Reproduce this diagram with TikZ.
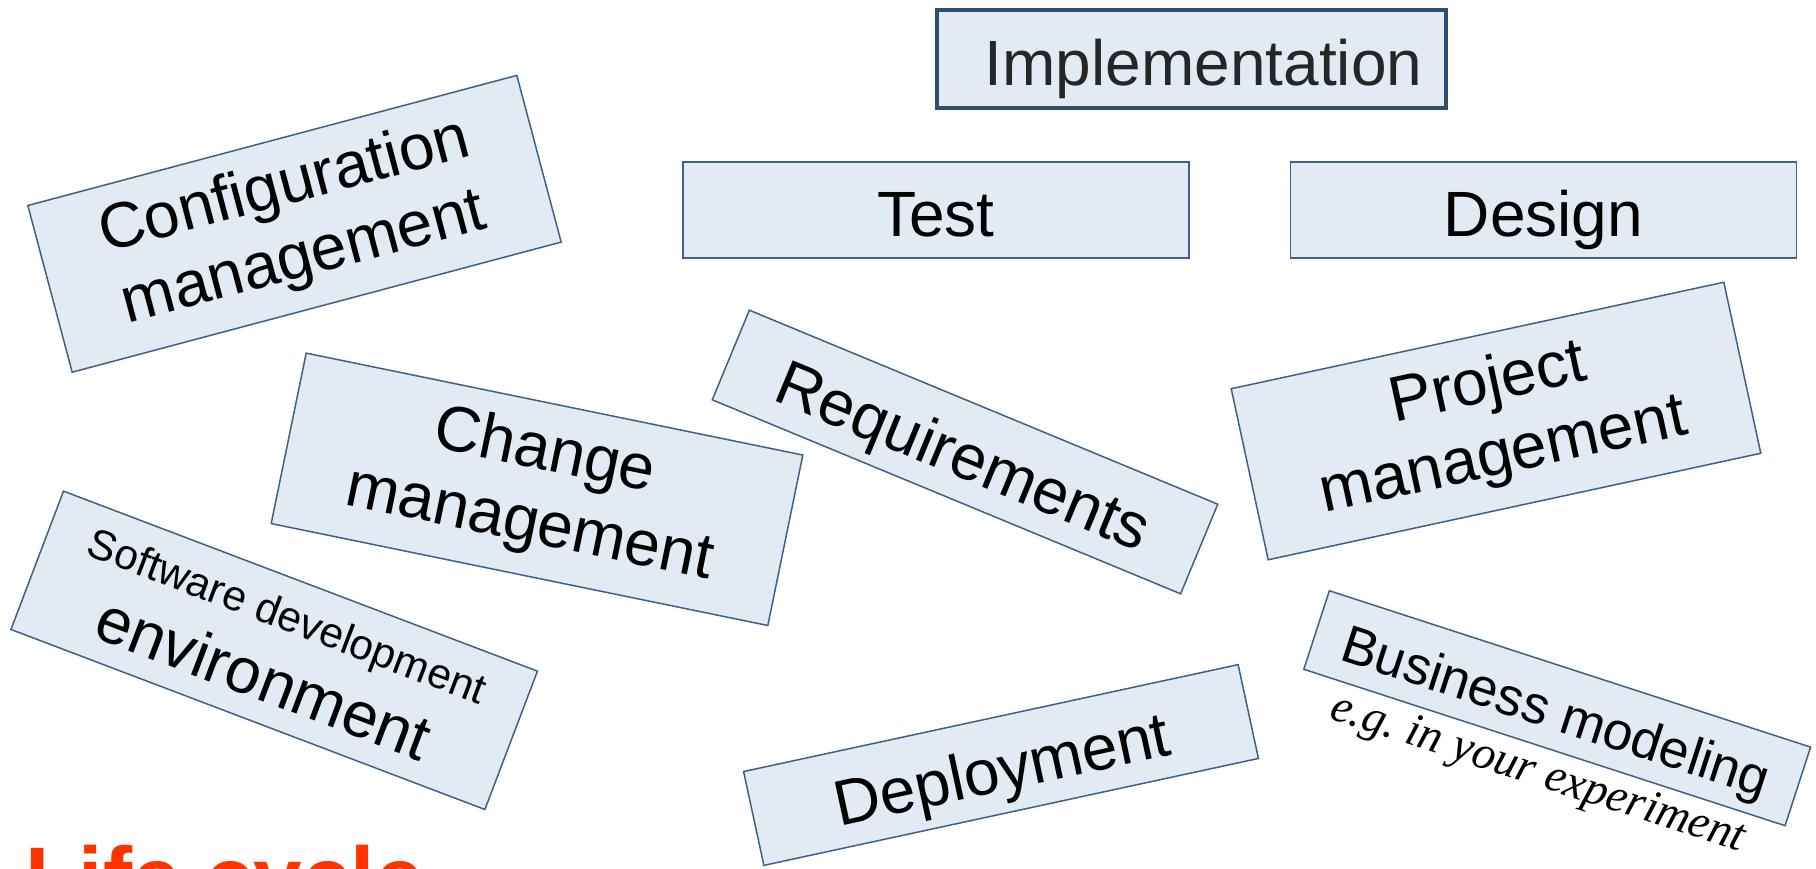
\documentclass[tikz,border=0pt]{standalone}
\usepackage{fontspec}
\setmainfont{Liberation Sans}
\newfontfamily\notefont{Liberation Serif}
\definecolor{boxfill}{HTML}{E2EAF4}
\definecolor{boxline}{HTML}{3F6189}
\definecolor{implline}{HTML}{2E4E70}
\definecolor{lifered}{HTML}{FF3300}

\begin{document}
\begin{tikzpicture}[x=0.5pt,y=-0.5pt,
    stage/.style={draw=boxline, fill=boxfill, line width=0.75pt, inner sep=0pt,
      align=center, font=\fontsize{32}{37}\selectfont},
    oneline/.style={text height=26pt, text depth=0pt}]
    \clip (0,0) rectangle (1816,868);
    \useasboundingbox (0,0) rectangle (1816,868);
    % top row
    \node[stage, oneline, draw=implline, line width=2pt, text=black!85, minimum width=254.5pt, minimum height=49pt] (impl) at (1191.5,59) {\hspace*{12pt}Implementation};
    \node[stage, oneline, minimum width=253pt, minimum height=48pt] (test) at (936,210) {Test};
    \node[stage, oneline, minimum width=253pt, minimum height=48pt] (design) at (1543.5,210) {Design};
    % tilted boxes
    \node[stage, rotate=14.9, minimum width=253pt, minimum height=86.25pt] (config) at (294.5,223.8) {Configuration\\management};
    \node[stage, rotate=-11.6, minimum width=253.5pt, minimum height=87pt] (change) at (537,489.3) {Change\\management};
    \node[stage, rotate=-20.8, minimum width=253.5pt, minimum height=74pt] (swenv) at (274.2,650.3) {{\fontsize{21.2}{37}\selectfont Software development}\\environment};
    \node[stage, oneline, rotate=-22.5, minimum width=253.5pt, minimum height=48.5pt] (req) at (965,452) {Requirements};
    \node[stage, rotate=12.2, minimum width=252pt, minimum height=87.5pt] (pm) at (1496,421) {Project\\management};
    \node[stage, oneline, rotate=12.2, minimum width=253pt, minimum height=48pt] (deploy) at (1001,765) {Deployment};
    \node[stage, rotate=-18, minimum width=253pt, minimum height=41.3pt, text height=21.6pt, text depth=0pt, font=\fontsize{26.6}{31}\selectfont] (bm) at (1557.2,708.2) {Business modeling};
    \node[rotate=-17.9, anchor=base, inner sep=0pt, font=\notefont\itshape\fontsize{23.4}{27}\selectfont] (note) at (1534,785) {e.g.\ in your experiment};
    % title, cut by the lower edge
    \node[anchor=base west, inner sep=0pt, text=lifered, font=\bfseries\fontsize{43.7}{50}\selectfont] (title) at (25,908) {Life cycle};
\end{tikzpicture}
\end{document}
